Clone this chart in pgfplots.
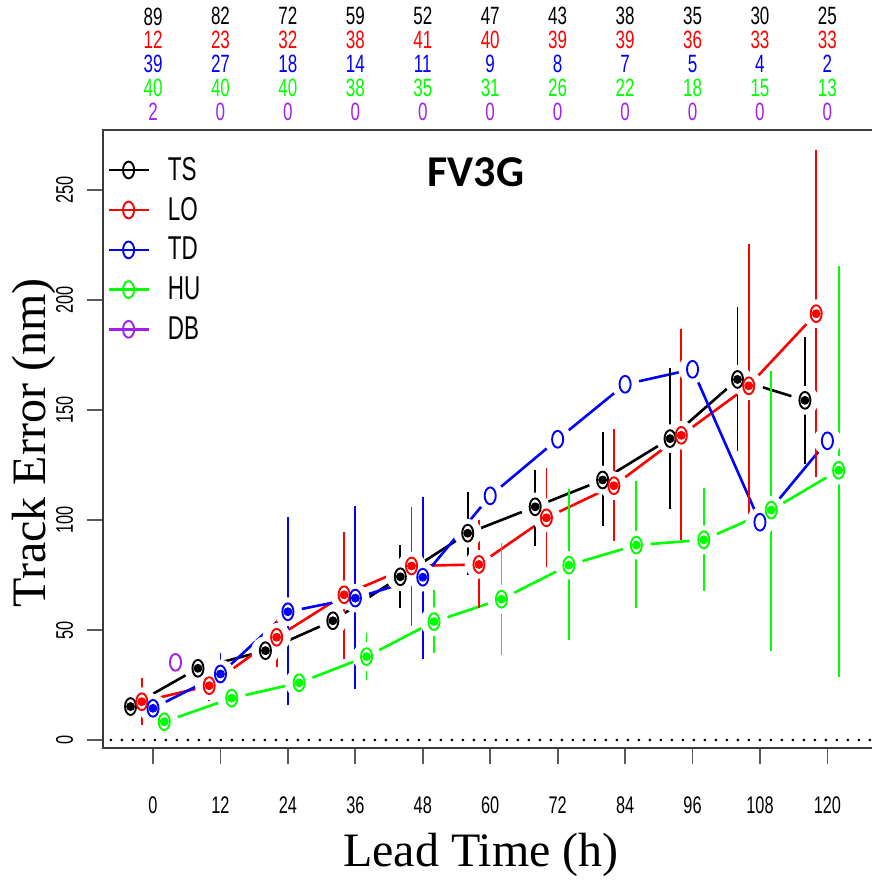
\documentclass[border=0pt]{standalone}
\usepackage{fontspec}
\usepackage{pgfplots}
\usepackage{pgfplotstable}
\pgfplotsset{compat=1.18}
\setmainfont{Liberation Serif}
\newfontfamily\narrow[FakeStretch=0.68]{Liberation Sans}
\newfontfamily\titlefont{Carlito}
\definecolor{rgreen}{RGB}{0,255,0}
\definecolor{rpurple}{RGB}{160,32,240}
\definecolor{rred}{RGB}{255,0,0}
\definecolor{rblue}{RGB}{0,0,255}
\definecolor{frame}{RGB}{60,60,60}

\pgfplotstableread{
x y lo hi
-4 15.2 13.0 17.5
8 32.6 28.0 37.6
20 40.6 35.6 45.0
32 54.2 49.7 59.0
44 74.2 61.4 87.1
56 94.0 76.5 111.4
68 106.0 89.8 121.5
80 118.2 98.8 138.5
92 137.0 106.4 167.7
104 163.9 132.8 195.3
116 154.4 127.0 181.6
}\tsdata
\pgfplotstableread{
x y lo hi
-2 17.4 8.3 26.8
10 24.7 19.0 29.0
22 46.7 34.5 58.8
34 66.0 38.3 93.0
46 79.1 53.5 104.5
58 79.8 61.4 98.5
70 101.0 80.3 122.4
82 115.6 91.7 139.7
94 138.5 92.4 185.6
106 161.0 98.0 224.0
118 193.8 121.0 266.9
}\lodata
\pgfplotstableread{
x y
0 14.4
12 30.0
24 58.3
36 64.5
48 74.0
60 111.0
72 136.7
84 161.7
96 168.5
108 99.0
120 136.0
}\tddata
\pgfplotstableread{
x y lo hi
0 14.4 12.0 17.0
12 30.0 21.5 38.2
24 58.3 17.3 100.0
36 64.5 24.5 105.0
48 74.0 38.2 109.0
}\tderr
\pgfplotstableread{
x y lo hi
2 8.3 6.0 10.5
14 19.0 17.0 21.0
26 26.0 21.2 31.0
38 37.9 28.5 47.3
50 53.8 40.9 66.8
62 64.0 40.1 87.9
74 79.5 47.0 112.6
86 88.6 61.5 116.4
98 91.0 69.2 113.3
110 104.5 42.0 166.4
122 122.6 30.3 214.0
}\hudata
\pgfplotstableread{
x y
4 35.3
}\dbdata

\pgfplotsset{
  gapline/.style={line width=1.3pt, mark=*, mark size=6.5pt,
    every mark/.append style={white}},
  errs/.style={only marks, mark=none,
    error bars/y dir=both, error bars/y explicit,
    error bars/error mark=-,
    error bars/error bar style={line width=0.9pt, solid},
    error bars/error mark options={mark size=1.6pt, line width=0.9pt, solid}},
  circ/.style={only marks, mark=o, mark size=4.2pt,
    every mark/.append style={xscale=0.66, line width=0.95pt, solid}},
  legimg/.style={line width=1.3pt, mark=o, mark size=4.2pt,
    every mark/.append style={xscale=0.66, line width=0.95pt}},
}

\begin{document}
\begin{tikzpicture}
\path[use as bounding box] (-51.5pt,-66.5pt) rectangle (384pt,374pt);
\begin{axis}[
  at={(0,0)}, anchor=south west,
  scale only axis, width=388.5pt, height=309pt,
  xmin=-8.9, xmax=129.36, ymin=-3.64, ymax=277.3,
  clip=false,
  axis line style={frame, line width=1pt},
  tick align=outside,
  xtick pos=bottom, ytick pos=left,
  xtick={0,12,...,120}, ytick={0,50,...,250},
  major tick length=8pt,
  tick style={black!65, line width=0.9pt},
  /pgf/number format/assume math mode=true,
  xticklabel style={font=\narrow\fontsize{12}{12}\selectfont, anchor=north, inner sep=0pt},
  yticklabel style={font=\narrow\fontsize{12}{12}\selectfont, rotate=90, anchor=south, inner sep=0pt},
  xticklabel shift=16pt,
  yticklabel shift=6.75pt,
  xlabel={Lead Time (h)},
  ylabel={Track Error (nm)},
  xlabel style={font=\fontsize{24}{24}\selectfont, at={(axis description cs:0.4865,-0.173)}, anchor=center},
  ylabel style={font=\fontsize{24}{24}\selectfont, at={(axis description cs:-0.089,0.4935)}, anchor=center, rotate=0},
  legend image code/.code={\draw[mark repeat=2, mark phase=2] plot coordinates {(0pt,0pt) (10pt,0pt) (20pt,0pt)};},
  legend style={draw=none, fill=none, at={(axis description cs:0.005,0.957)}, anchor=north west,
    font=\narrow\fontsize{16.5}{16.5}\selectfont, row sep=7pt, inner sep=0pt,
    nodes={inner sep=0pt}},
  legend cell align=left,
]
\addlegendimage{black, legimg}
\addlegendimage{rred, legimg}
\addlegendimage{rblue, legimg}
\addlegendimage{rgreen, legimg}
\addlegendimage{rpurple, legimg}
\legend{\hspace*{9pt}TS,\hspace*{9pt}LO,\hspace*{9pt}TD,\hspace*{9pt}HU,\hspace*{9pt}DB}

% zero line
\addplot[black, line width=1.4pt, dash pattern=on 0pt off 5.5pt, line cap=round, forget plot] coordinates {(-7.5,0) (129.36,0)};

% lines with gaps
\addplot[black, gapline, forget plot] table[x=x,y=y] \tsdata;
\addplot[rred, gapline, forget plot] table[x=x,y=y] \lodata;
\addplot[rblue, gapline, forget plot] table[x=x,y=y] \tddata;
\addplot[rgreen, gapline, forget plot] table[x=x,y=y] \hudata;

% error bars
\addplot[black, forget plot, errs] table[x=x, y=y, y error plus expr=\thisrow{hi}-\thisrow{y}, y error minus expr=\thisrow{y}-\thisrow{lo}] \tsdata;
\addplot[rred, forget plot, errs] table[x=x, y=y, y error plus expr=\thisrow{hi}-\thisrow{y}, y error minus expr=\thisrow{y}-\thisrow{lo}] \lodata;
\addplot[rblue, forget plot, errs] table[x=x, y=y, y error plus expr=\thisrow{hi}-\thisrow{y}, y error minus expr=\thisrow{y}-\thisrow{lo}] \tderr;
\addplot[rgreen, forget plot, errs] table[x=x, y=y, y error plus expr=\thisrow{hi}-\thisrow{y}, y error minus expr=\thisrow{y}-\thisrow{lo}] \hudata;

% circles
\addplot[black, circ, forget plot] table[x=x,y=y] \tsdata;
\addplot[rred, circ, forget plot] table[x=x,y=y] \lodata;
\addplot[rblue, circ, forget plot] table[x=x,y=y] \tddata;
\addplot[rgreen, circ, forget plot] table[x=x,y=y] \hudata;
\addplot[rpurple, circ, forget plot] table[x=x,y=y] \dbdata;

% title
\node[font=\titlefont\bfseries\fontsize{22}{22}\selectfont] at (axis description cs:0.480,0.932) {FV3G};

% counts
\node[align=center, font=\narrow\fontsize{12.5}{11.9}\selectfont] at (axis cs:0,307.3) {89\\\textcolor{rred}{12}\\\textcolor{rblue}{39}\\\textcolor{rgreen}{40}\\\textcolor{rpurple}{2}};
\node[align=center, font=\narrow\fontsize{12.5}{11.9}\selectfont] at (axis cs:12,307.3) {82\\\textcolor{rred}{23}\\\textcolor{rblue}{27}\\\textcolor{rgreen}{40}\\\textcolor{rpurple}{0}};
\node[align=center, font=\narrow\fontsize{12.5}{11.9}\selectfont] at (axis cs:24,307.3) {72\\\textcolor{rred}{32}\\\textcolor{rblue}{18}\\\textcolor{rgreen}{40}\\\textcolor{rpurple}{0}};
\node[align=center, font=\narrow\fontsize{12.5}{11.9}\selectfont] at (axis cs:36,307.3) {59\\\textcolor{rred}{38}\\\textcolor{rblue}{14}\\\textcolor{rgreen}{38}\\\textcolor{rpurple}{0}};
\node[align=center, font=\narrow\fontsize{12.5}{11.9}\selectfont] at (axis cs:48,307.3) {52\\\textcolor{rred}{41}\\\textcolor{rblue}{11}\\\textcolor{rgreen}{35}\\\textcolor{rpurple}{0}};
\node[align=center, font=\narrow\fontsize{12.5}{11.9}\selectfont] at (axis cs:60,307.3) {47\\\textcolor{rred}{40}\\\textcolor{rblue}{9}\\\textcolor{rgreen}{31}\\\textcolor{rpurple}{0}};
\node[align=center, font=\narrow\fontsize{12.5}{11.9}\selectfont] at (axis cs:72,307.3) {43\\\textcolor{rred}{39}\\\textcolor{rblue}{8}\\\textcolor{rgreen}{26}\\\textcolor{rpurple}{0}};
\node[align=center, font=\narrow\fontsize{12.5}{11.9}\selectfont] at (axis cs:84,307.3) {38\\\textcolor{rred}{39}\\\textcolor{rblue}{7}\\\textcolor{rgreen}{22}\\\textcolor{rpurple}{0}};
\node[align=center, font=\narrow\fontsize{12.5}{11.9}\selectfont] at (axis cs:96,307.3) {35\\\textcolor{rred}{36}\\\textcolor{rblue}{5}\\\textcolor{rgreen}{18}\\\textcolor{rpurple}{0}};
\node[align=center, font=\narrow\fontsize{12.5}{11.9}\selectfont] at (axis cs:108,307.3) {30\\\textcolor{rred}{33}\\\textcolor{rblue}{4}\\\textcolor{rgreen}{15}\\\textcolor{rpurple}{0}};
\node[align=center, font=\narrow\fontsize{12.5}{11.9}\selectfont] at (axis cs:120,307.3) {25\\\textcolor{rred}{33}\\\textcolor{rblue}{2}\\\textcolor{rgreen}{13}\\\textcolor{rpurple}{0}};
\end{axis}
\end{tikzpicture}
\end{document}
